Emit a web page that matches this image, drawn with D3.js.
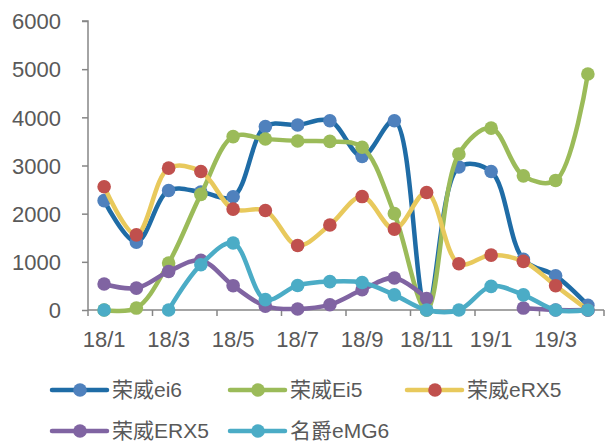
<!DOCTYPE html>
<html><head><meta charset="utf-8">
<script src="https://cdn.jsdelivr.net/npm/d3@7"></script>
<style>body{margin:0;background:#fff}svg{display:block}text{font-family:"Liberation Sans",Arial,"Noto Sans CJK SC",sans-serif;fill:#595959}</style>
</head><body>
<script>
const months = ["18/1","18/2","18/3","18/4","18/5","18/6","18/7","18/8","18/9","18/10","18/11","18/12","19/1","19/2","19/3","19/4"];
const tickLabels = ["18/1","18/3","18/5","18/7","18/9","18/11","19/1","19/3"];
const yTicks = [0,1000,2000,3000,4000,5000,6000];
const seriesNames = ["荣威ei6","荣威Ei5","荣威eRX5","荣威ERX5","名爵eMG6"];
const ei6  = [2270,1410,2480,2450,2350,3810,3840,3930,3190,3930,0,2970,2875,1050,710,100];
const Ei5  = [0,40,975,2400,3600,3550,3510,3500,3380,2000,0,3240,3775,2785,2690,4900];
const eRX5 = [2560,1560,2945,2875,2095,2065,1340,1765,2355,1680,2440,960,1140,1010,505,0];
const ERX5 = [540,455,800,1030,505,80,20,110,420,665,240,null,null,40,0,0];
const eMG6 = [0,null,0,940,1390,215,510,590,570,315,0,0,490,315,0,0];

const W=605,H=444;
const svg=d3.select("body").append("svg").attr("width",W).attr("height",H);
const x0=88,x1=604,yTop=21,yBot=310;
const x=d3.scaleBand().domain(months).range([x0,x1]).padding(0);
const y=d3.scaleLinear().domain([0,6000]).range([yBot,yTop]);
const cx=d=>x(d)+x.bandwidth()/2;

// Y axis
const yAxis=d3.axisLeft(y).tickValues(yTicks).tickSize(6).tickPadding(20).tickFormat(d3.format("d"));
const gy=svg.append("g").attr("transform",`translate(${x0},0)`).call(yAxis);
gy.select(".domain").attr("stroke","#868686").attr("stroke-width",1.5).attr("d",`M-6,${yTop}H0V${yBot}`);
gy.selectAll(".tick line").attr("stroke","#868686").attr("stroke-width",1.5);
gy.selectAll(".tick text").attr("font-size",22).attr("fill","#595959").attr("dy","0.35em").attr("x",-27);

// X axis
const gx=svg.append("g").attr("transform",`translate(0,${yBot})`);
gx.append("line").attr("x1",x0).attr("x2",x1).attr("y1",0).attr("y2",0).attr("stroke","#868686").attr("stroke-width",1.5);
const tickPos=d3.range(0,months.length+1,2).map(i=>x0+i*x.bandwidth());
gx.selectAll("line.tk").data(tickPos).enter().append("line").attr("class","tk")
  .attr("x1",d=>d).attr("x2",d=>d).attr("y1",0).attr("y2",6).attr("stroke","#868686").attr("stroke-width",1.5);
gx.selectAll("text").data(tickLabels).enter().append("text")
  .attr("x",d=>cx(d)).attr("y",37).attr("text-anchor","middle").attr("font-size",22).text(d=>d);

const series=[
 {name:seriesNames[0],vals:ei6,line:"#1F6CA6",mark:"#4F81BD"},
 {name:seriesNames[1],vals:Ei5,line:"#9BBB59",mark:"#9BBB59"},
 {name:seriesNames[2],vals:eRX5,line:"#E8C95C",mark:"#C0504D"},
 {name:seriesNames[3],vals:ERX5,line:"#8064A2",mark:"#8064A2"},
 {name:seriesNames[4],vals:eMG6,line:"#4BACC6",mark:"#4BACC6"}
];
const line=d3.line().defined(d=>d.v!=null).x(d=>cx(d.m)).y(d=>y(d.v)).curve(d3.curveCatmullRom.alpha(0.5));
series.forEach(s=>{
  const pts=months.map((m,i)=>({m,v:s.vals[i]}));
  const g=svg.append("g");
  g.append("path").datum(pts).attr("d",line).attr("fill","none").attr("stroke",s.line).attr("stroke-width",4.5).attr("stroke-linejoin","round");
  g.selectAll("circle").data(pts.filter(d=>d.v!=null)).enter().append("circle")
    .attr("cx",d=>cx(d.m)).attr("cy",d=>y(d.v)).attr("r",6.8).attr("fill",s.mark);
});

// Legend
const legPos=[[52,390],[230,390],[407,390],[52,431],[230,431]];
series.forEach((s,i)=>{
  const [lx,ly]=legPos[i];
  const g=svg.append("g").attr("transform",`translate(${lx},${ly})`);
  g.append("line").attr("x1",0).attr("x2",55).attr("y1",0).attr("y2",0).attr("stroke",s.line).attr("stroke-width",4.5).attr("stroke-linecap","round");
  g.append("circle").attr("cx",28).attr("cy",0).attr("r",6.8).attr("fill",s.mark);
  g.append("text").attr("x",60).attr("y",0).attr("dy","0.34em").attr("font-size",21).text(s.name);
});
</script>
</body></html>
